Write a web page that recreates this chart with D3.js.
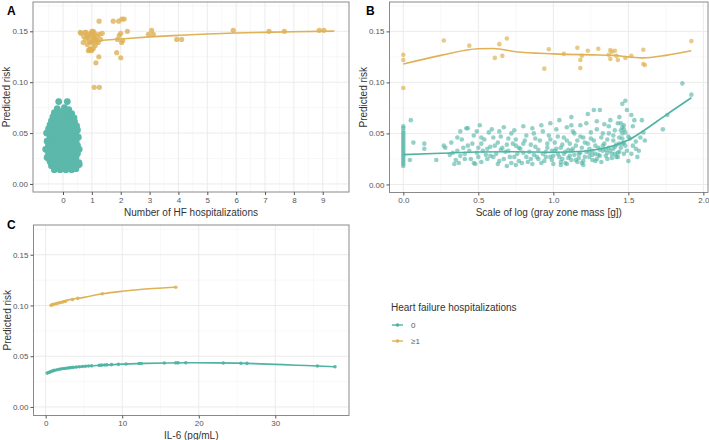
<!DOCTYPE html>
<html>
<head>
<meta charset="utf-8">
<script src="https://cdn.jsdelivr.net/npm/d3@7"></script>
<style>
  body { margin: 0; background: #fff; }
  svg text { font-family: "Liberation Sans", Arial, sans-serif; }
</style>
</head>
<body>
<div id="chart"></div>
<script>
// ---- data ----
var riskTicks = [0, 0.05, 0.10, 0.15];
var riskMinor = [0.025, 0.075, 0.125, 0.175];
var hfTicks = [0, 1, 2, 3, 4, 5, 6, 7, 8, 9];
var hfMinor = [-0.5, 0.5, 1.5, 2.5, 3.5, 4.5, 5.5, 6.5, 7.5, 8.5, 9.5];
var gzTicks = [0, 0.5, 1.0, 1.5, 2.0];
var gzMinor = [0.25, 0.75, 1.25, 1.75];
var ilTicks = [0, 10, 20, 30];
var ilMinor = [5, 15, 25, 35];
var groups = ["0", "≥1"];

// panel A: number of HF hospitalizations
var hfZeroPts = [
  [-0.15,0.081],[0.15,0.081],
  [-0.2,0.074],[0.05,0.075],[0.2,0.073],
  [-0.3,0.070],[-0.1,0.071],[0.1,0.070],[0.3,0.069],
  [-0.35,0.066],[-0.15,0.067],[0.05,0.066],[0.25,0.066],[0.38,0.065],
  [-0.4,0.062],[-0.2,0.062],[0,0.063],[0.2,0.062],[0.4,0.061],
  [-0.45,0.058],[-0.25,0.058],[-0.05,0.059],[0.15,0.058],[0.35,0.058],[0.47,0.057],
  [-0.5,0.054],[-0.3,0.054],[-0.1,0.055],[0.1,0.054],[0.3,0.054],[0.5,0.053],
  [-0.57,0.050],[-0.35,0.050],[-0.15,0.051],[0.05,0.050],[0.25,0.050],[0.45,0.050],
  [-0.45,0.046],[-0.25,0.046],[-0.05,0.047],[0.15,0.046],[0.35,0.046],[0.53,0.046],
  [-0.55,0.042],[-0.35,0.042],[-0.15,0.043],[0.05,0.042],[0.25,0.042],[0.45,0.042],
  [-0.5,0.038],[-0.3,0.038],[-0.1,0.039],[0.1,0.038],[0.3,0.038],[0.5,0.038],
  [-0.6,0.034],[-0.4,0.034],[-0.2,0.035],[0,0.034],[0.2,0.034],[0.4,0.034],[0.56,0.034],
  [-0.5,0.030],[-0.3,0.030],[-0.1,0.031],[0.1,0.030],[0.3,0.030],[0.5,0.030],
  [-0.55,0.026],[-0.35,0.026],[-0.15,0.027],[0.05,0.026],[0.25,0.026],[0.45,0.026],
  [-0.45,0.022],[-0.25,0.022],[-0.05,0.023],[0.15,0.022],[0.35,0.022],[0.55,0.021],
  [-0.4,0.018],[-0.2,0.018],[0,0.019],[0.2,0.018],[0.4,0.018],[0.56,0.019],
  [-0.3,0.014],[-0.1,0.014],[0.1,0.014],[0.3,0.014],[0.45,0.015]
];
var hfOnePts = [
  [0.6,0.149],[0.76,0.149],[0.84,0.145],[0.94,0.139],[0.99,0.148],[1.05,0.150],
  [1.1,0.143],[1.17,0.140],[1.25,0.160],[1.14,0.119],[1.24,0.125],[1.08,0.095],
  [1.26,0.095],[1.36,0.148],[0.91,0.132],[1.0,0.132],[1.74,0.160],[1.93,0.160],
  [2.04,0.162],[2.12,0.162],[1.86,0.129],[2.0,0.124],[1.89,0.142],[1.95,0.146],
  [2.0,0.148],[2.03,0.139],[2.07,0.141],[2.23,0.150],[2.96,0.147],[3.07,0.151],
  [3.13,0.147],[3.94,0.142],[4.11,0.142],[5.9,0.151],[7.14,0.150],[7.67,0.150],
  [8.88,0.151],[9.04,0.151],
  [0.62,0.148],[0.7,0.139],[0.72,0.145],[0.78,0.142],[0.8,0.149],[0.84,0.137],
  [0.86,0.144],[0.9,0.147],[0.92,0.140],[0.95,0.133],[0.97,0.145],[1.0,0.150],
  [1.02,0.141],[1.04,0.138],[1.06,0.146],[1.08,0.143],[1.1,0.148],[1.12,0.136],
  [1.14,0.141],[1.18,0.145],[1.22,0.139],[1.26,0.147],[1.3,0.142],[0.88,0.131],
  [0.98,0.131],[1.05,0.133]
];
var hfOneLine = [[1,0.1405],[2,0.1425],[3,0.1445],[4,0.146],[5,0.1473],[6,0.1483],[7,0.149],[8,0.1496],[9.4,0.1502]];

// panel B: scale of log gray zone mass
var gzZeroPts = [
  [0,0.018],[0,0.020],[0,0.022],[0,0.024],[0,0.026],[0,0.028],[0,0.030],[0,0.032],[0,0.034],[0,0.036],
  [0,0.038],[0,0.040],[0,0.042],[0,0.044],[0,0.046],[0,0.048],[0,0.050],[0,0.052],[0,0.055],[0,0.057],
  [0.05,0.063],[0.067,0.041],[0.044,0.024],[0.14,0.040],[0.14,0.035],[0.22,0.024],[0.27,0.038],
  [0.28,0.036],[0.31,0.029],[0.33,0.031],[0.35,0.024],[0.36,0.046],[0.37,0.021],[0.38,0.028],
  [0.40,0.036],[0.42,0.055],[0.43,0.055],[0.41,0.025],[0.44,0.033],[0.46,0.040],[0.47,0.021],
  [0.48,0.020],[0.50,0.027],[0.49,0.052],[0.51,0.058],[0.52,0.040],[0.53,0.033],[0.56,0.025],
  [0.57,0.051],[0.58,0.037],[0.60,0.046],[0.62,0.030],[0.63,0.041],[0.64,0.023],[0.66,0.036],
  [0.67,0.056],[0.68,0.032],[0.69,0.018],[0.70,0.045],[0.71,0.027],[0.73,0.040],[0.74,0.053],
  [0.76,0.030],[0.77,0.023],[0.78,0.035],[0.80,0.057],[0.81,0.043],[0.82,0.027],[0.84,0.032],
  [0.86,0.020],[0.87,0.050],[0.88,0.037],[0.89,0.027],[0.91,0.043],[0.92,0.058],[0.93,0.030],
  [0.94,0.023],[0.96,0.036],[0.97,0.048],[0.98,0.027],[0.99,0.033],[1.00,0.020],[1.01,0.041],
  [1.02,0.054],[1.03,0.030],[1.04,0.063],[1.05,0.036],[1.06,0.025],[1.07,0.046],[1.08,0.032],
  [1.09,0.056],[1.09,0.020],[1.11,0.040],[1.11,0.028],[1.12,0.066],[1.13,0.035],[1.14,0.050],
  [1.15,0.024],[1.16,0.043],[1.17,0.030],[1.18,0.058],[1.19,0.036],[1.20,0.023],[1.20,0.046],
  [1.22,0.032],[1.23,0.069],[1.23,0.040],[1.24,0.027],[1.25,0.051],[1.26,0.033],[1.27,0.073],
  [1.27,0.043],[1.28,0.023],[1.28,0.030],[1.29,0.054],[1.30,0.036],[1.31,0.073],[1.31,0.028],
  [1.32,0.046],[1.33,0.033],[1.34,0.059],[1.34,0.040],[1.36,0.025],[1.36,0.031],[1.37,0.050],
  [1.37,0.036],[1.38,0.063],[1.39,0.030],[1.40,0.043],[1.40,0.035],[1.41,0.053],[1.42,0.027],
  [1.42,0.039],[1.43,0.031],[1.44,0.066],[1.44,0.046],[1.45,0.036],[1.46,0.079],[1.46,0.056],
  [1.47,0.030],[1.47,0.041],[1.48,0.082],[1.48,0.051],[1.49,0.033],[1.49,0.073],[1.50,0.023],
  [1.51,0.045],[1.52,0.068],[1.53,0.038],[1.54,0.063],[1.55,0.035],[1.56,0.027],[1.58,0.046],
  [1.59,0.063],[1.60,0.051],[1.61,0.043],[1.73,0.054],[1.76,0.068],[1.86,0.099],[1.92,0.088],
  [1.46,0.040],[1.46,0.045],[1.46,0.050],[1.47,0.054],[1.47,0.058],[1.45,0.060],
  [0.9,0.025],[0.95,0.032],[1.0,0.028],[1.02,0.035],[1.05,0.022],[1.07,0.030],[1.1,0.026],
  [1.12,0.033],[1.14,0.029],[1.16,0.022],[1.18,0.031],[1.21,0.027],[1.24,0.035],[1.26,0.029],
  [1.29,0.025],[1.31,0.034],[1.33,0.038],[1.35,0.028],[1.38,0.033],[1.41,0.030],[1.43,0.027],
  [1.44,0.040],[0.6,0.027],[0.65,0.034],[0.72,0.021],[0.75,0.038],[0.8,0.031],[0.85,0.025],
  [0.55,0.029],[0.5,0.036],
  [0.32,0.041],[0.34,0.020],[0.36,0.033],[0.39,0.044],[0.41,0.030],[0.43,0.038],[0.45,0.025],
  [0.47,0.048],[0.49,0.031],[0.52,0.022],[0.54,0.044],[0.56,0.035],[0.58,0.028],[0.59,0.054],
  [0.61,0.038],[0.63,0.020],[0.65,0.047],[0.67,0.025],[0.69,0.039],[0.70,0.033],[0.72,0.050],
  [0.74,0.027],[0.75,0.044],[0.77,0.036],[0.79,0.021],[0.80,0.040],[0.82,0.048],[0.83,0.022],
  [0.85,0.039],[0.87,0.029],[0.88,0.045],[0.90,0.034],[0.92,0.021],[0.93,0.052],[0.95,0.027],
  [0.96,0.040],[0.98,0.044],[0.99,0.024],[1.01,0.033],[1.03,0.047],[1.04,0.027],[1.06,0.039],
  [1.08,0.021],[1.09,0.043],[1.10,0.034],[1.12,0.024],[1.13,0.052],[1.15,0.038],[1.17,0.026],
  [1.18,0.047],[1.19,0.021],[1.21,0.041],[1.22,0.060],[1.24,0.031],[1.25,0.045],[1.26,0.024],
  [1.28,0.038],[1.29,0.062],[1.30,0.029],[1.32,0.022],[1.33,0.050],[1.35,0.034],[1.36,0.044],
  [1.37,0.057],[1.39,0.026],[1.40,0.048],[1.41,0.037],[1.43,0.060],[1.44,0.032],[1.45,0.053],
  [1.48,0.038],[1.50,0.047],[1.52,0.030],[1.53,0.057],[1.55,0.042],[1.57,0.033],[1.12,0.058],
  [0.98,0.060],[0.86,0.055],[0.64,0.052],[0.52,0.046],[0.38,0.052],[0.75,0.019],[1.05,0.019],
  [1.2,0.019]
];
var gzOnePts = [
  [0,0.127],[0,0.122],[0,0.0945],[0.27,0.141],[0.44,0.136],[0.61,0.124],[0.64,0.1375],
  [0.66,0.126],[0.69,0.143],[0.94,0.1135],[0.97,0.1325],[1.07,0.128],[1.16,0.134],
  [1.19,0.126],[1.18,0.122],[1.18,0.114],[1.23,0.131],[1.30,0.133],[1.38,0.1316],
  [1.39,0.130],[1.41,0.131],[1.38,0.123],[1.42,0.126],[1.43,0.122],[1.37,0.127],
  [1.48,0.124],[1.52,0.126],[1.60,0.132],[1.61,0.117],[1.92,0.1405],[1.60,0.118]
];
var gzZeroLine = [[0,0.0292],[0.25,0.0305],[0.5,0.0318],[0.75,0.032],[1.0,0.0315],[1.2,0.0325],[1.3,0.0345],[1.4,0.038],[1.5,0.0435],[1.6,0.0525],[1.75,0.068],[1.92,0.085]];
var gzOneLine = [[0,0.118],[0.25,0.1265],[0.5,0.133],[0.6,0.1332],[0.75,0.130],[1.0,0.128],[1.25,0.127],[1.4,0.1265],[1.5,0.125],[1.6,0.124],[1.75,0.1265],[1.92,0.131]];

// panel C: IL-6
var ilZeroPts = [
  [0.2,0.0334],[0.4,0.0340],[0.6,0.0346],[0.8,0.0352],[1.0,0.0358],[1.2,0.0362],[1.5,0.0367],
  [1.8,0.0372],[2.1,0.0376],[2.4,0.0379],[2.7,0.0382],[3.0,0.0385],[3.3,0.0388],[3.6,0.0390],
  [4.0,0.0393],[4.4,0.0396],[4.8,0.0399],[5.2,0.0401],[5.6,0.0403],[6.0,0.0405],[7.0,0.0410],
  [7.3,0.0412],[7.7,0.0413],[8.0,0.0415],[8.6,0.0417],[9.5,0.0420],[10.5,0.0423],[12.2,0.0428],
  [12.5,0.0429],[15.5,0.0434],[17.0,0.0435],[17.3,0.0435],[18.3,0.0436],[23.2,0.0434],
  [25.5,0.0431],[26.3,0.0430],[35.5,0.0404],[37.8,0.0397]
];
var ilOnePts = [[0.7,0.1003],[0.9,0.1008],[1.1,0.1012],[1.4,0.1018],[1.7,0.1024],[2.0,0.1030],[2.3,0.1036],[2.6,0.1042],[3.5,0.1058],[4.2,0.1070],[7.4,0.1115],[17.0,0.1180]];
var ilZeroLine = [[0.2,0.0334],[1,0.0358],[2,0.0375],[3,0.0385],[5,0.0400],[7,0.0410],[10,0.0422],[13,0.0430],[16,0.0434],[19,0.0436],[22,0.0435],[25,0.0432],[28,0.0425],[31,0.0417],[34,0.0408],[37.8,0.0397]];
var ilOneLine = [[0.7,0.1003],[2,0.1035],[3,0.1055],[5,0.1080],[7.4,0.1115],[10,0.1140],[12,0.1155],[14,0.1167],[17,0.1180]];

// ---- drawing ----
var teal = "#4fb3a3", gold = "#dfb256";
var svg = d3.select("#chart").append("svg")
    .attr("width", 709)
    .attr("height", 440);

function panel(p) {
    var x = d3.scaleLinear().domain(p.xd).range([p.l, p.r]);
    var y = d3.scaleLinear().domain(p.yd).range([p.b, p.t]);
    var g = svg.append("g");

    // grid
    g.selectAll(".vmin").data(p.xMinor.filter(function (d) { return x(d) > p.l && x(d) < p.r; }))
        .enter().append("line")
        .attr("x1", function (d) { return x(d); }).attr("x2", function (d) { return x(d); })
        .attr("y1", p.t).attr("y2", p.b)
        .attr("stroke", "#f4f4f4").attr("stroke-width", 0.6);
    g.selectAll(".hmin").data(riskMinor.filter(function (d) { return y(d) > p.t; }))
        .enter().append("line")
        .attr("x1", p.l).attr("x2", p.r)
        .attr("y1", function (d) { return y(d); }).attr("y2", function (d) { return y(d); })
        .attr("stroke", "#f4f4f4").attr("stroke-width", 0.6);
    g.selectAll(".vmaj").data(p.xTicks)
        .enter().append("line")
        .attr("x1", function (d) { return x(d); }).attr("x2", function (d) { return x(d); })
        .attr("y1", p.t).attr("y2", p.b)
        .attr("stroke", "#ebebeb").attr("stroke-width", 1);
    g.selectAll(".hmaj").data(riskTicks)
        .enter().append("line")
        .attr("x1", p.l).attr("x2", p.r)
        .attr("y1", function (d) { return y(d); }).attr("y2", function (d) { return y(d); })
        .attr("stroke", "#ebebeb").attr("stroke-width", 1);

    // points
    p.series.forEach(function (s) {
        g.append("g").selectAll("circle").data(s.pts)
            .enter().append("circle")
            .attr("cx", function (d) { return x(d[0]); })
            .attr("cy", function (d) { return y(d[1]); })
            .attr("r", s.rad)
            .attr("fill", s.col)
            .attr("fill-opacity", s.alpha);
    });
    // smooth lines
    var line = d3.line()
        .x(function (d) { return x(d[0]); })
        .y(function (d) { return y(d[1]); })
        .curve(d3.curveMonotoneX);
    p.series.forEach(function (s) {
        if (!s.line.length) return;
        g.append("path")
            .attr("d", line(s.line))
            .attr("fill", "none")
            .attr("stroke", s.col)
            .attr("stroke-width", 1.6);
    });

    // border
    g.append("rect")
        .attr("x", p.l).attr("y", p.t)
        .attr("width", p.r - p.l).attr("height", p.b - p.t)
        .attr("fill", "none").attr("stroke", "#8a8a8a").attr("stroke-width", 1);

    // axes
    var xa = g.append("g").attr("transform", "translate(0," + p.b + ")")
        .call(d3.axisBottom(x).tickValues(p.xTicks).tickFormat(p.xFmt).tickSize(3).tickPadding(2));
    var ya = g.append("g").attr("transform", "translate(" + p.l + ",0)")
        .call(d3.axisLeft(y).tickValues(riskTicks).tickFormat(d3.format(".2f")).tickSize(3).tickPadding(2));
    [xa, ya].forEach(function (a) {
        a.select(".domain").remove();
        a.selectAll(".tick line").attr("stroke", "#555");
        a.selectAll(".tick text").attr("fill", "#555").attr("font-size", "8px")
            .attr("font-family", "Liberation Sans, Arial, sans-serif");
    });

    // titles
    g.append("text")
        .attr("x", (p.l + p.r) / 2).attr("y", p.b + 23.5)
        .attr("text-anchor", "middle")
        .attr("font-size", "10px").attr("fill", "#333")
        .text(p.xTitle);
    g.append("text")
        .attr("transform", "translate(" + (p.l - 23) + "," + ((p.t + p.b) / 2) + ") rotate(-90)")
        .attr("text-anchor", "middle")
        .attr("font-size", "10px").attr("fill", "#333")
        .text("Predicted risk");
    g.append("text")
        .attr("x", p.tagX).attr("y", p.tagY)
        .attr("font-size", "12px").attr("font-weight", "bold").attr("fill", "#000")
        .text(p.tag);
}

panel({
    tag: "A", tagX: 7, tagY: 15,
    l: 33, r: 349, t: 2, b: 192,
    xd: [-1.04, 9.91], yd: [-0.0079, 0.1788],
    xTicks: hfTicks, xMinor: hfMinor, xFmt: d3.format("d"),
    xTitle: "Number of HF hospitalizations",
    series: [
        { pts: hfZeroPts, line: [], col: "#5bb8aa", rad: 3.4, alpha: 1 },
        { pts: hfOnePts, line: hfOneLine, col: gold, rad: 2.6, alpha: 0.8 }
    ]
});
panel({
    tag: "B", tagX: 366, tagY: 15,
    l: 389.5, r: 708, t: 2, b: 192.5,
    xd: [-0.092, 2.031], yd: [-0.0079, 0.1788],
    xTicks: gzTicks, xMinor: gzMinor, xFmt: d3.format(".1f"),
    xTitle: "Scale of log (gray zone mass [g])",
    series: [
        { pts: gzZeroPts, line: gzZeroLine, col: teal, rad: 2.3, alpha: 0.6 },
        { pts: gzOnePts, line: gzOneLine, col: gold, rad: 2.3, alpha: 0.7 }
    ]
});
panel({
    tag: "C", tagX: 7, tagY: 229,
    l: 33.5, r: 349, t: 225, b: 415.5,
    xd: [-1.59, 39.63], yd: [-0.0084, 0.1793],
    xTicks: ilTicks, xMinor: ilMinor, xFmt: d3.format("d"),
    xTitle: "IL-6 (pg/mL)",
    series: [
        { pts: ilZeroPts, line: ilZeroLine, col: teal, rad: 1.8, alpha: 0.9 },
        { pts: ilOnePts, line: ilOneLine, col: gold, rad: 1.8, alpha: 0.9 }
    ]
});

// legend
var leg = svg.append("g").attr("transform", "translate(391,0)");
leg.append("text")
    .attr("x", 0).attr("y", 311)
    .attr("font-size", "10px").attr("fill", "#333")
    .text("Heart failure hospitalizations");
var keyY = d3.scalePoint().domain(groups).range([325, 341]);
var keyCol = d3.scaleOrdinal().domain(groups).range([teal, gold]);
groups.forEach(function (k) {
    leg.append("line")
        .attr("x1", 1).attr("x2", 12)
        .attr("y1", keyY(k)).attr("y2", keyY(k))
        .attr("stroke", keyCol(k)).attr("stroke-width", 1.4);
    leg.append("circle")
        .attr("cx", 6.5).attr("cy", keyY(k)).attr("r", 1.8)
        .attr("fill", keyCol(k));
    leg.append("text")
        .attr("x", 20).attr("y", keyY(k) + 3)
        .attr("font-size", "8px").attr("fill", "#555")
        .text(k);
});
</script>
</body>
</html>
